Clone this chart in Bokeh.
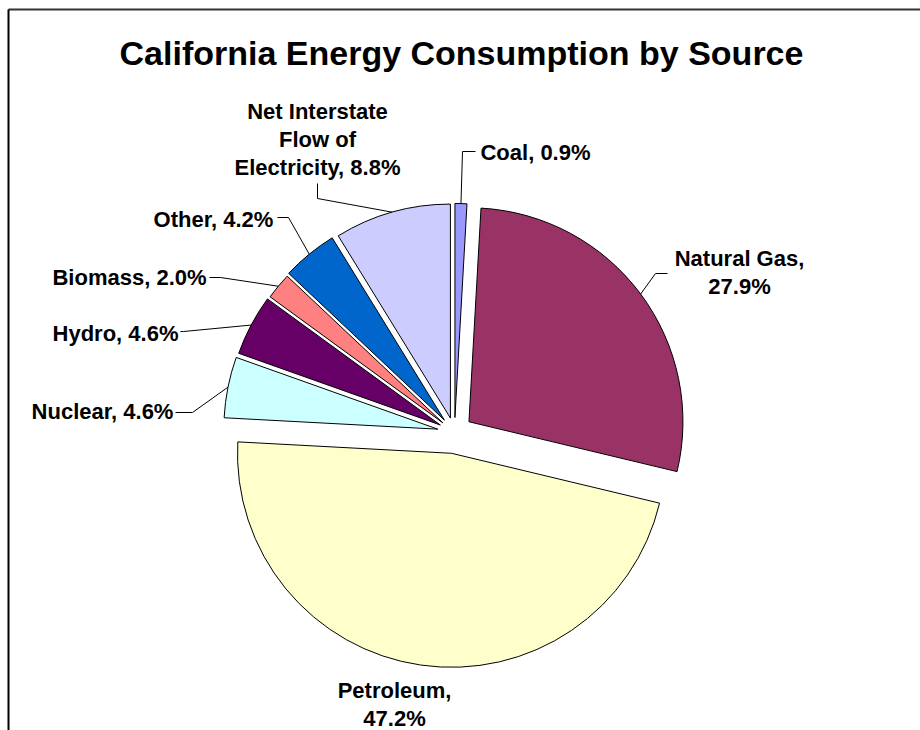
import math
import textwrap
from bokeh.plotting import figure
from bokeh.models import Range1d, ColumnDataSource
from bokeh.embed import file_html
from bokeh.resources import INLINE
from bokeh.core.properties import value

# ---------------- data ----------------
title = "California Energy Consumption by Source"
sources = ["Coal", "Natural Gas", "Petroleum", "Nuclear", "Hydro",
           "Biomass", "Other", "Net Interstate Flow of Electricity"]
shares = [0.9, 27.9, 47.2, 4.6, 4.6, 2.0, 4.2, 8.8]
colors = ["#9999FF", "#993366", "#FFFFCC", "#CCFFFF", "#660066",
          "#FF8080", "#0066CC", "#CCCCFF"]

# ---------------- layout / style (pixel space, y down) ----------------
W, H = 920, 730
CX, CY, R = 454, 432, 214
explode = [15, 18, 21, 17, 16, 15, 16, 15]
wrap_width = [40, 12, 10, 40, 40, 40, 40, 17]
label_cx = [535, 739, 394, 102, 115, 129, 213, 317]
label_y = [152, 258, 690, 411, 333, 277, 219, 111]
line_step = 28
# leader elbows (label side) ; None = no leader
leaders = [[(475, 151), (462, 151)],
           [(667, 273), (655, 273)],
           None,
           [(175, 412), (192, 412)],
           [(180, 331), (183, 331)],
           [(209, 277), (220, 277)],
           [(277, 217), (288, 217)],
           [(317, 183), (317, 198)]]
FONT = "Liberation Sans"
LABEL_SIZE = "22px"
TITLE_SIZE = "34px"
TITLE_X, TITLE_Y = 461, 52


def Y(ypx):
    return H - ypx


p = figure(width=W, height=H, x_range=Range1d(0, W), y_range=Range1d(0, H),
           x_axis_type=None, y_axis_type=None, toolbar_location=None,
           output_backend="svg", min_border=0)
p.outline_line_color = None
p.background_fill_color = "white"
p.border_fill_color = "white"

total = sum(shares)
cum = 0.0
wx, wy, sa, ea, fc = [], [], [], [], []
arc_mid = []
for i, s in enumerate(shares):
    t1 = cum / total * 360.0
    cum += s
    t2 = cum / total * 360.0
    tm = math.radians((t1 + t2) / 2)
    ax = CX + explode[i] * math.sin(tm)
    ay = CY - explode[i] * math.cos(tm)
    wx.append(ax)
    wy.append(Y(ay))
    sa.append(math.radians(90 - t2))
    ea.append(math.radians(90 - t1))
    fc.append(colors[i])
    arc_mid.append((ax + R * math.sin(tm), ay - R * math.cos(tm)))

src = ColumnDataSource(dict(x=wx, y=wy, sa=sa, ea=ea, color=fc))
p.wedge(x="x", y="y", radius=R, start_angle="sa", end_angle="ea",
        direction="anticlock", fill_color="color", line_color="black",
        line_width=1, source=src)

# leader lines
lx, ly = [], []
for i, ld in enumerate(leaders):
    if ld is None:
        continue
    pts = ld + [arc_mid[i]]
    lx.append([pt[0] for pt in pts])
    ly.append([Y(pt[1]) for pt in pts])
p.multi_line(xs=lx, ys=ly, line_color="black", line_width=1)

# labels
tx, ty, tt = [], [], []
for i, (name, s) in enumerate(zip(sources, shares)):
    lines = textwrap.wrap(f"{name}, {s:.1f}%", wrap_width[i])
    for k, ln in enumerate(lines):
        tx.append(label_cx[i])
        ty.append(Y(label_y[i] + k * line_step))
        tt.append(ln)
p.text(x=tx, y=ty, text=tt, text_align="center", text_baseline="alphabetic",
       text_font=value(FONT), text_font_style="bold", text_font_size=LABEL_SIZE,
       text_color="black")

# title
p.text(x=[TITLE_X], y=[Y(TITLE_Y)], text=[title], text_align="center",
       text_baseline="alphabetic", text_font=value(FONT),
       text_font_style="bold", text_font_size=TITLE_SIZE, text_color="black")

# chart-area border (cropped box)
p.segment(x0=[8], y0=[Y(9)], x1=[W], y1=[Y(9)], line_color="#333333", line_width=2)
p.segment(x0=[8], y0=[Y(9)], x1=[8], y1=[0], line_color="black", line_width=2)

open("out.html", "w").write(file_html(p, INLINE))
